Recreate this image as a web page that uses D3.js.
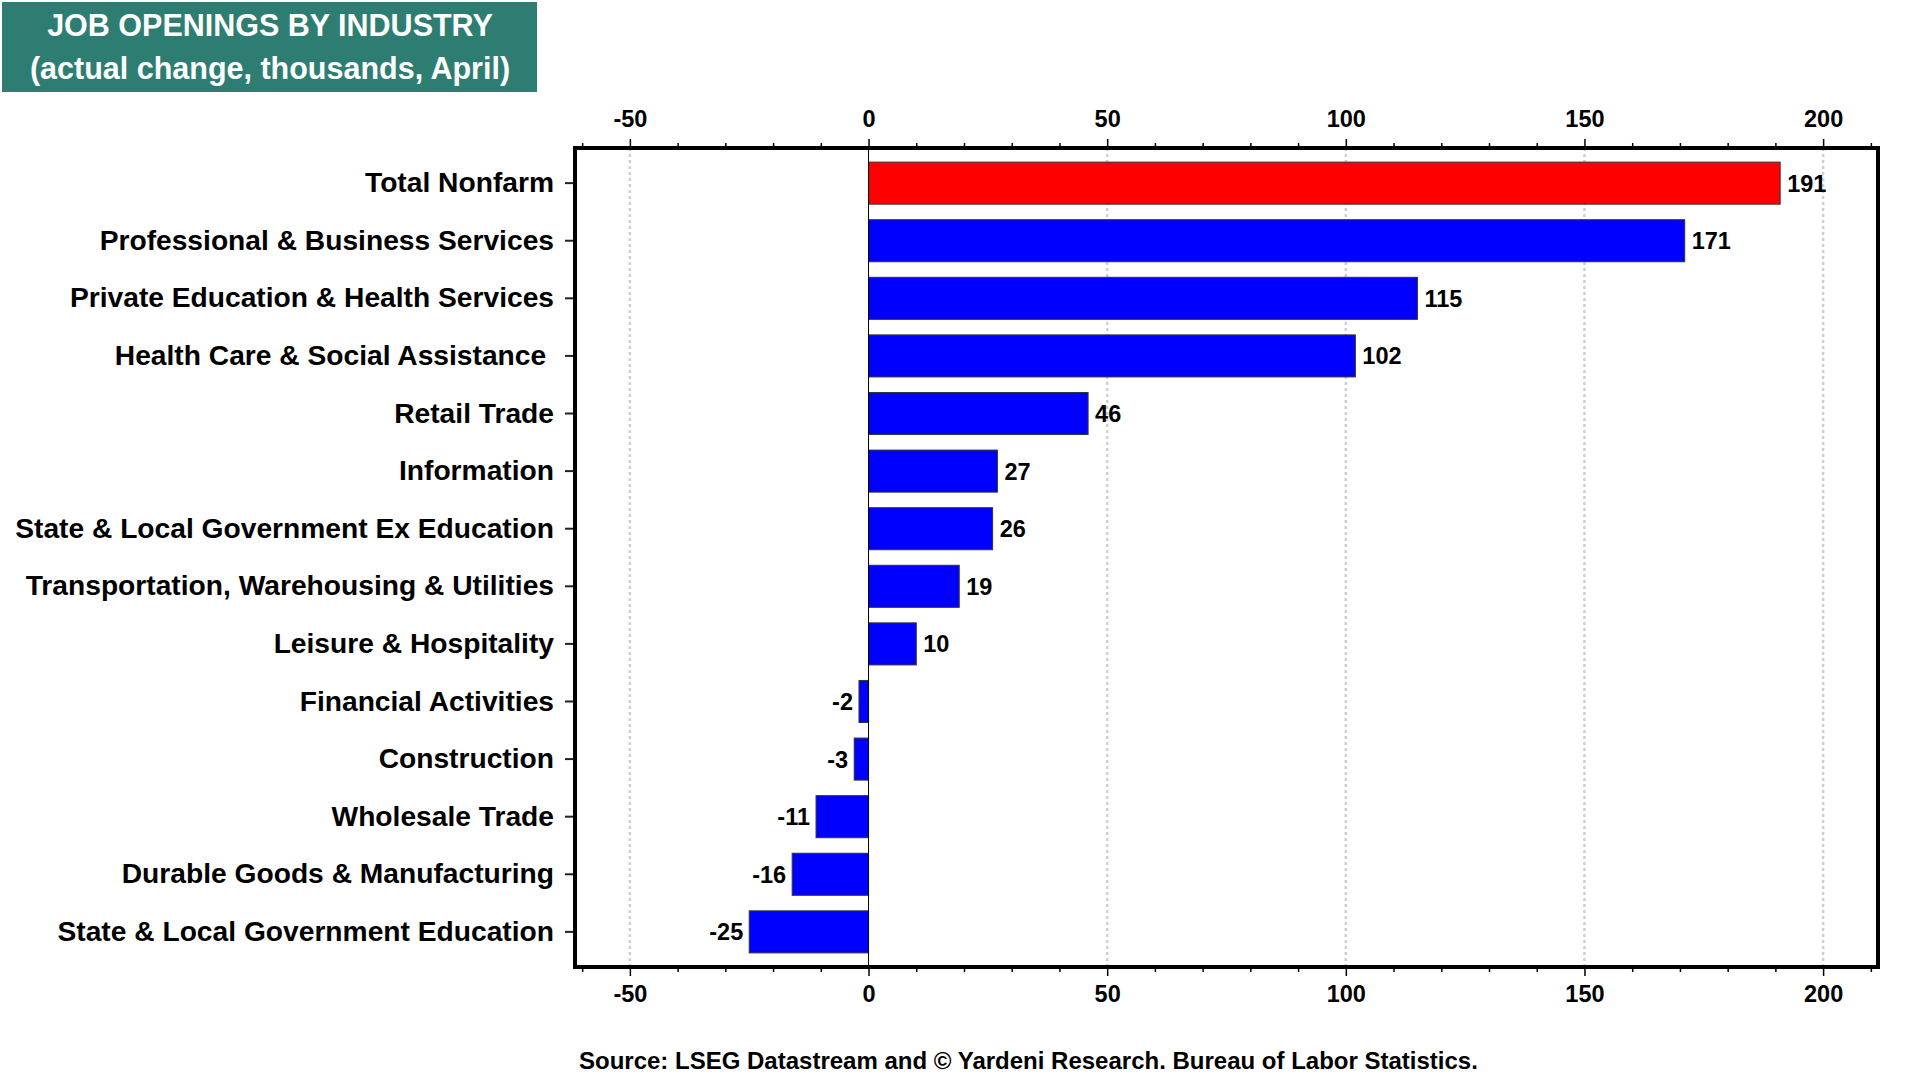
<!DOCTYPE html>
<html>
<head>
<meta charset="utf-8">
<script src="https://cdn.jsdelivr.net/npm/d3@7"></script>
<style>
  html, body { margin: 0; padding: 0; background: #fff; }
  svg { display: block; font-family: "Liberation Sans", Arial, sans-serif; }
</style>
</head>
<body>
<svg id="chart" width="1920" height="1080"></svg>
<script>
const categories = [
  "Total Nonfarm",
  "Professional & Business Services",
  "Private Education & Health Services",
  "Health Care & Social Assistance ",
  "Retail Trade",
  "Information",
  "State & Local Government Ex Education",
  "Transportation, Warehousing & Utilities",
  "Leisure & Hospitality",
  "Financial Activities",
  "Construction",
  "Wholesale Trade",
  "Durable Goods & Manufacturing",
  "State & Local Government Education"
];
const values = [191, 171, 115, 102, 46, 27, 26, 19, 10, -2, -3, -11, -16, -25];
const majorTicks = [-50, 0, 50, 100, 150, 200];
const minorTicks = [-60, -40, -30, -20, -10, 10, 20, 30, 40, 60, 70, 80, 90, 110, 120, 130, 140, 160, 170, 180, 190, 210];
const titleLines = ["JOB OPENINGS BY INDUSTRY", "(actual change, thousands, April)"];
const sourceText = "Source: LSEG Datastream and \u00A9 Yardeni Research. Bureau of Labor Statistics.";

const data = categories.map((c, i) => ({ cat: c, val: values[i], highlight: i === 0 }));

const svg = d3.select("#chart");
const box = { left: 575, right: 1878, top: 148, bottom: 967 };

const x = d3.scaleLinear().domain([-61.5, 211.5]).range([box.left, box.right]);
const y = d3.scaleBand().domain(categories).range([box.top, box.bottom])
  .paddingInner(0.27).paddingOuter(0.245);

const fmt = d => String(d);

// Title box
svg.append("rect").attr("x", 2).attr("y", 2).attr("width", 535).attr("height", 90)
  .attr("fill", "#2E7D72");
svg.selectAll("text.title").data(titleLines).enter().append("text")
  .attr("class", "title")
  .attr("x", 270).attr("y", (d, i) => 25 + i * 43)
  .attr("dy", "0.36em")
  .attr("text-anchor", "middle")
  .attr("fill", "#fff").attr("font-weight", "bold")
  .attr("font-size", (d, i) => i === 0 ? 30.5 : 30.5)
  .text(d => d);

// Gridlines (dotted)
svg.append("g").selectAll("line").data(majorTicks.filter(d => d !== 0)).enter().append("line")
  .attr("x1", d => x(d)).attr("x2", d => x(d))
  .attr("y1", box.top).attr("y2", box.bottom)
  .attr("stroke", "#cfcfcf").attr("stroke-width", 2.5).attr("stroke-dasharray", "3,3");

// Bars
svg.append("g").selectAll("rect").data(data).enter().append("rect")
  .attr("x", d => x(Math.min(0, d.val)))
  .attr("width", d => Math.abs(x(d.val) - x(0)))
  .attr("y", d => y(d.cat))
  .attr("height", y.bandwidth())
  .attr("fill", d => d.highlight ? "#FF0000" : "#0000FF")
  .attr("stroke", "#333").attr("stroke-width", 1);

// Zero line
svg.append("line").attr("x1", x(0)).attr("x2", x(0))
  .attr("y1", box.top).attr("y2", box.bottom)
  .attr("stroke", "#000").attr("stroke-width", 1);

// Value labels
svg.append("g").selectAll("text").data(data).enter().append("text")
  .attr("x", d => d.val >= 0 ? x(d.val) + 7 : x(d.val) - 6)
  .attr("y", d => y(d.cat) + y.bandwidth() / 2)
  .attr("dy", "0.36em")
  .attr("text-anchor", d => d.val >= 0 ? "start" : "end")
  .attr("font-size", 23.5).attr("font-weight", "bold").attr("fill", "#000")
  .text(d => fmt(d.val));

// Axes top & bottom
function hAxis(orient, yPos) {
  const major = (orient === "top" ? d3.axisTop(x) : d3.axisBottom(x))
    .tickValues(majorTicks).tickSize(9).tickPadding(orient === "top" ? 12 : 9).tickFormat(fmt);
  const gM = svg.append("g").attr("transform", `translate(0,${yPos})`).call(major);
  gM.select(".domain").remove();
  gM.selectAll(".tick line").attr("stroke", "#000").attr("stroke-width", 1.5);
  gM.selectAll(".tick text").attr("font-size", 23.5).attr("font-weight", "bold")
    .attr("fill", "#000").attr("font-family", "Liberation Sans, Arial, sans-serif");
  const minor = (orient === "top" ? d3.axisTop(x) : d3.axisBottom(x))
    .tickValues(minorTicks).tickSize(5).tickFormat("");
  const gm = svg.append("g").attr("transform", `translate(0,${yPos})`).call(minor);
  gm.select(".domain").remove();
  gm.selectAll(".tick line").attr("stroke", "#000").attr("stroke-width", 1.5);
}
hAxis("top", box.top);
hAxis("bottom", box.bottom);

// Left axis (category labels)
const yAxis = d3.axisLeft(y).tickSize(10).tickPadding(11);
const gy = svg.append("g").attr("transform", `translate(${box.left},0)`).call(yAxis);
gy.select(".domain").remove();
gy.selectAll(".tick line").attr("stroke", "#222").attr("stroke-width", 2);
gy.selectAll(".tick text").attr("font-size", 28.2).attr("font-weight", "bold")
  .attr("fill", "#000").attr("font-family", "Liberation Sans, Arial, sans-serif")
  .style("white-space", "pre");

// Plot frame
svg.append("rect").attr("x", box.left).attr("y", box.top)
  .attr("width", box.right - box.left).attr("height", box.bottom - box.top)
  .attr("fill", "none").attr("stroke", "#000").attr("stroke-width", 4);

// Source
svg.append("text").attr("x", 579).attr("y", 1060).attr("dy", "0.36em")
  .attr("font-size", 24).attr("font-weight", "bold").attr("fill", "#000")
  .text(sourceText);
</script>
</body>
</html>
